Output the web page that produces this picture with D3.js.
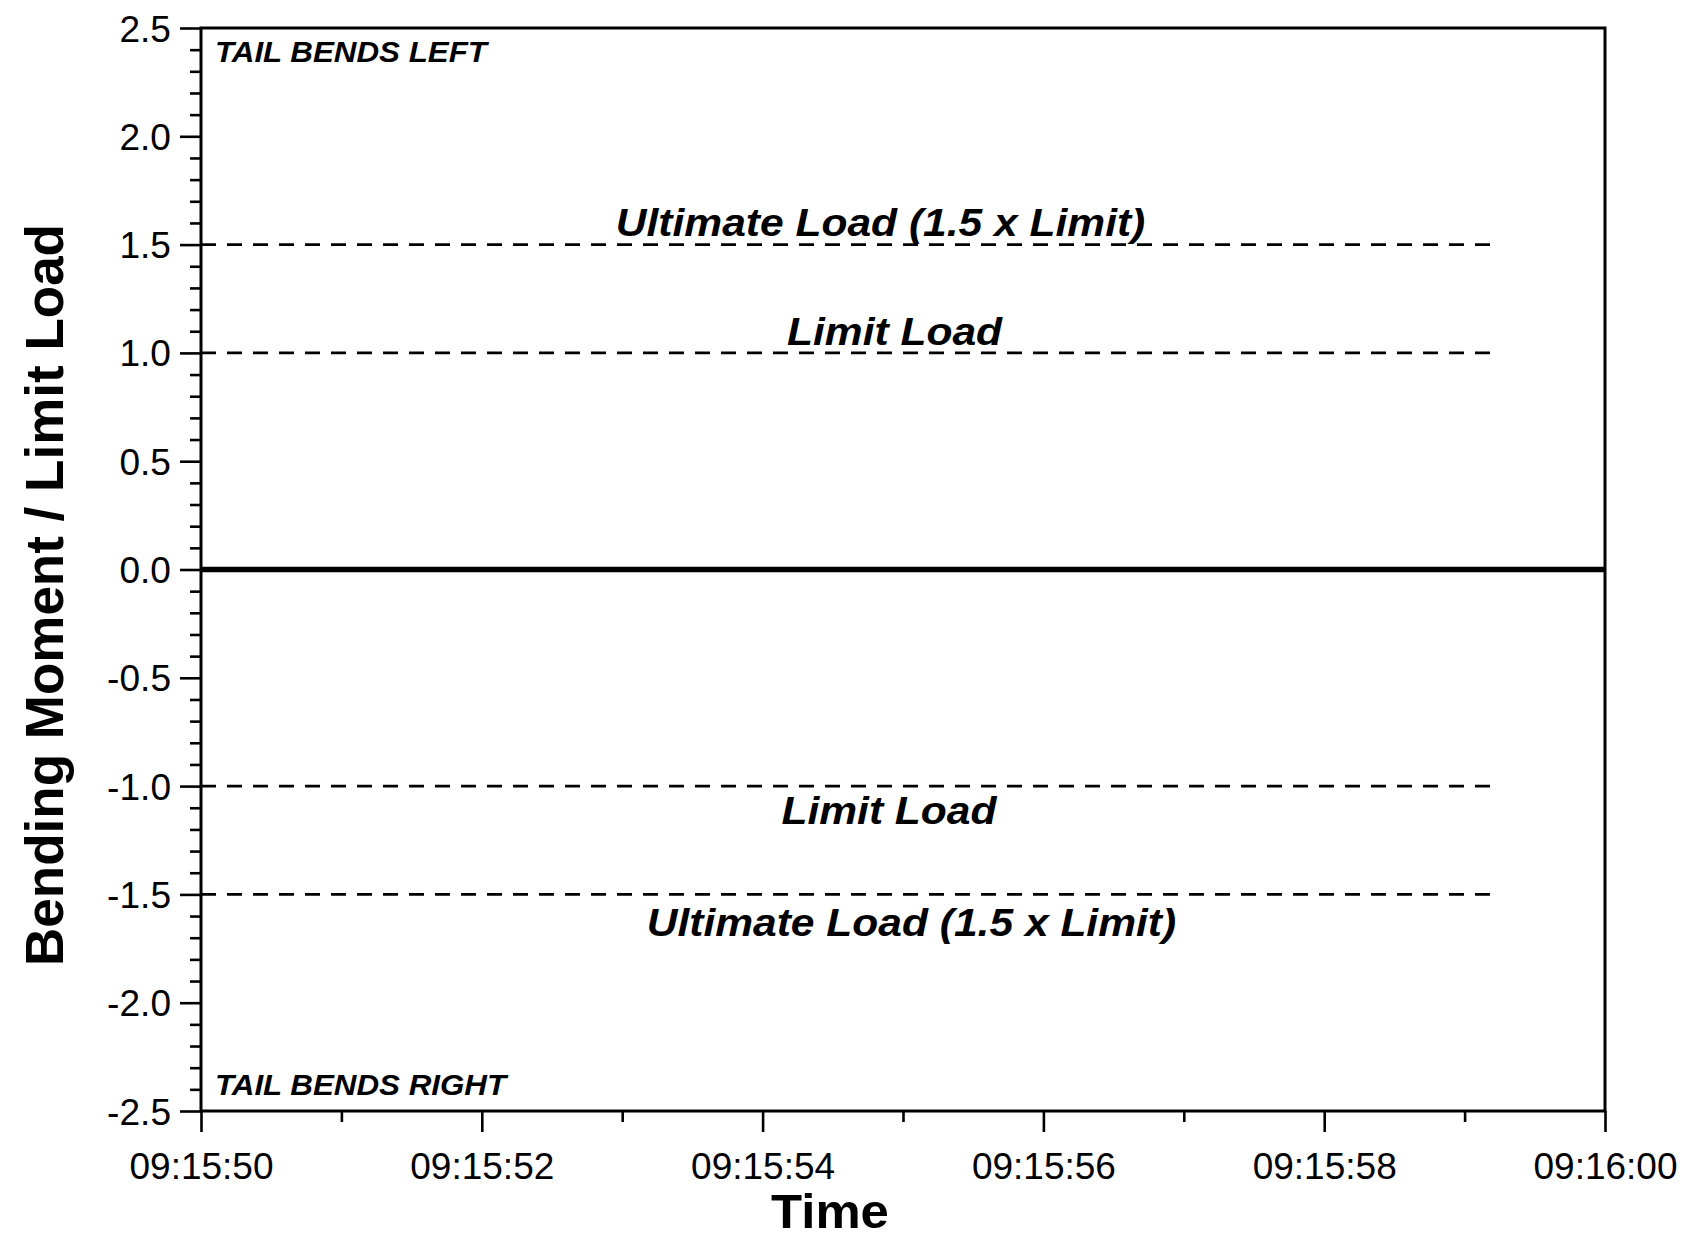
<!DOCTYPE html>
<html>
<head>
<meta charset="utf-8">
<script src="https://cdn.jsdelivr.net/npm/d3@7"></script>
<style>
  body { margin: 0; background: #fff; }
  text { font-family: "Liberation Sans", Arial, sans-serif; fill: #000; }
</style>
</head>
<body>
<svg id="chart" width="1696" height="1242"></svg>
<script>
// chart data
var timeDomain = ["09:15:50.000", "09:16:00.000"];
var majorTimes = ["09:15:50.000", "09:15:52.000", "09:15:54.000", "09:15:56.000", "09:15:58.000", "09:16:00.000"];
var minorTimes = ["09:15:51.000", "09:15:53.000", "09:15:55.000", "09:15:57.000", "09:15:59.000"];
var yTicks = [-2.5, -2.0, -1.5, -1.0, -0.5, 0.0, 0.5, 1.0, 1.5, 2.0, 2.5];
var zeroSeries = [{ t: "09:15:50.000", v: 0 }, { t: "09:16:00.000", v: 0 }];
var limitLevels = [1.5, 1.0, -1.0, -1.5];
var limitStart = "09:15:50.000";
var limitEnd = "09:15:59.240";
var levelLabels = ["Ultimate Load (1.5 x Limit)", "Limit Load", "Limit Load", "Ultimate Load (1.5 x Limit)"];
var sideLabels = ["TAIL BENDS LEFT", "TAIL BENDS RIGHT"];
var xTitle = "Time";
var yTitle = "Bending Moment / Limit Load";

(function () {
  var parseT = d3.timeParse("%H:%M:%S.%L");
  var svg = d3.select("#chart");
  var left = 201, right = 1605, top = 28, bottom = 1111;
  var sx = 1.12; // horizontal stretch of the original text

  var x = d3.scaleTime()
    .domain(timeDomain.map(parseT))
    .range([left, right]);

  var y = d3.scaleLinear()
    .domain([-2.5, 2.5])
    .range([bottom, top]);

  // minor y ticks
  var minorY = d3.range(-25, 26).map(function (i) { return i / 10; })
    .filter(function (v) { return Math.abs(v * 2 - Math.round(v * 2)) > 1e-6; });

  svg.append("g")
    .attr("transform", "translate(" + left + ",0)")
    .call(d3.axisLeft(y).tickValues(minorY).tickSize(11).tickFormat(""))
    .call(function (g) { g.select(".domain").remove(); })
    .selectAll("line").attr("stroke-width", 2.6);

  var yAxis = svg.append("g")
    .attr("transform", "translate(" + left + ",0)")
    .call(d3.axisLeft(y).tickValues(yTicks).tickSize(21)
      .tickFormat(function (d) { return d.toFixed(1); }))
    .call(function (g) { g.select(".domain").remove(); });
  yAxis.selectAll("line").attr("stroke-width", 2.6);
  yAxis.selectAll("text")
    .attr("font-size", 36)
    .attr("x", null)
    .attr("dy", null)
    .attr("transform", "translate(-30,13) scale(1.03,1)")
    .attr("text-anchor", "end");

  // x axis ticks
  svg.append("g")
    .attr("transform", "translate(0," + bottom + ")")
    .call(d3.axisBottom(x).tickValues(minorTimes.map(parseT)).tickSize(11).tickFormat(""))
    .call(function (g) { g.select(".domain").remove(); })
    .selectAll("line").attr("stroke-width", 2.6);

  var xAxis = svg.append("g")
    .attr("transform", "translate(0," + bottom + ")")
    .call(d3.axisBottom(x).tickValues(majorTimes.map(parseT)).tickSize(21)
      .tickFormat(d3.timeFormat("%H:%M:%S")))
    .call(function (g) { g.select(".domain").remove(); });
  xAxis.selectAll("line").attr("stroke-width", 2.6);
  xAxis.selectAll("text")
    .attr("font-size", 37)
    .attr("y", null)
    .attr("dy", null)
    .attr("transform", "translate(0,68)")
    .attr("text-anchor", "middle");

  // frame
  svg.append("rect")
    .attr("x", left).attr("y", top)
    .attr("width", right - left).attr("height", bottom - top)
    .attr("fill", "none")
    .attr("stroke", "#000")
    .attr("stroke-width", 3);

  // dashed limit lines
  svg.selectAll(".limit")
    .data(limitLevels)
    .enter()
    .append("line")
    .attr("class", "limit")
    .attr("x1", x(parseT(limitStart)))
    .attr("x2", x(parseT(limitEnd)))
    .attr("y1", function (d) { return y(d); })
    .attr("y2", function (d) { return y(d); })
    .attr("stroke", "#000")
    .attr("stroke-width", 2.6)
    .attr("stroke-dasharray", "15,11");

  // zero line
  var line = d3.line()
    .x(function (d) { return x(parseT(d.t)); })
    .y(function (d) { return y(d.v); });
  svg.append("path")
    .datum(zeroSeries)
    .attr("d", line)
    .attr("fill", "none")
    .attr("stroke", "#000")
    .attr("stroke-width", 5.5);

  // level labels: anchor time (s after start) and offset from the line
  var labelPlace = [
    { s: 4.84, dy: -9 },
    { s: 4.94, dy: -8 },
    { s: 4.90, dy: 38 },
    { s: 5.06, dy: 42 }
  ];
  var t0 = parseT(timeDomain[0]);
  svg.selectAll(".level-label")
    .data(levelLabels)
    .enter()
    .append("text")
    .attr("class", "level-label")
    .attr("transform", function (d, i) {
      var px = x(d3.timeMillisecond.offset(t0, labelPlace[i].s * 1000));
      var py = y(limitLevels[i]) + labelPlace[i].dy;
      return "translate(" + px + "," + py + ") scale(" + sx + ",1)";
    })
    .attr("text-anchor", "middle")
    .attr("font-size", 38)
    .attr("font-weight", "bold")
    .attr("font-style", "italic")
    .text(function (d) { return d; });

  // side labels
  svg.selectAll(".side-label")
    .data(sideLabels)
    .enter()
    .append("text")
    .attr("class", "side-label")
    .attr("transform", function (d, i) {
      var py = i === 0 ? top + 34 : bottom - 16;
      return "translate(" + (left + 14) + "," + py + ") scale(1.08,1)";
    })
    .attr("font-size", 29)
    .attr("font-weight", "bold")
    .attr("font-style", "italic")
    .text(function (d) { return d; });

  // axis titles
  svg.append("text")
    .attr("transform", "translate(830,1228) scale(1.06,1)")
    .attr("text-anchor", "middle")
    .attr("font-size", 48)
    .attr("font-weight", "bold")
    .text(xTitle);

  svg.append("text")
    .attr("transform", "translate(63,595) rotate(-90)")
    .attr("text-anchor", "middle")
    .attr("font-size", 53)
    .attr("font-weight", "bold")
    .text(yTitle);
})();
</script>
</body>
</html>
